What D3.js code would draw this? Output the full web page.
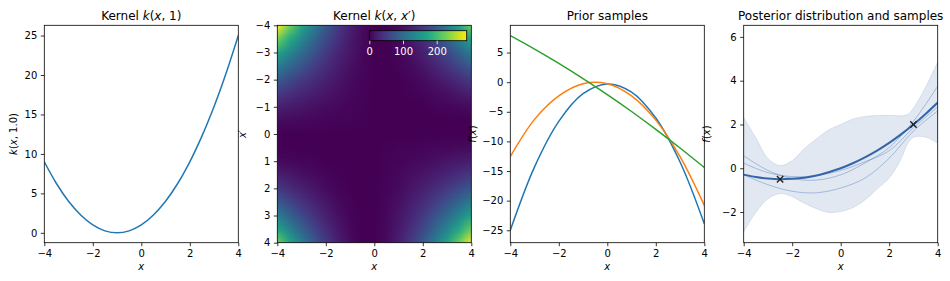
<!DOCTYPE html>
<meta charset="utf-8">
<head>
<script src="https://d3js.org/d3.v7.min.js"></script>
<style>
  body { margin: 0; background: #fff; }
  svg text { font-family: "DejaVu Sans", sans-serif; fill: #000; }
  .tick text { font-size: 10px; }
  .tick line { stroke: #000; stroke-width: 0.8; }
</style>
</head>
<body>
<div class="viz"></div>
<script>
// ---- data ----
// panel 1: k(x, 1)
var kernelX = [-4,-3.5,-3,-2.5,-2,-1.5,-1,-0.5,0,0.5,1,1.5,2,2.5,3,3.5,4];
var kernelK1 = [9,6.25,4,2.25,1,0.25,0,0.25,1,2.25,4,6.25,9,12.25,16,20.25,25];

// panel 2: k(x, x') on the same grid, rows are x' from -4 (top) to 4
var kernelGrid = [
  [289,225,169,121,81,49,25,9,1,1,9,25,49,81,121,169,225],
  [225,175.6,132.3,95.1,64,39.1,20.3,7.6,1,0.6,6.3,18.1,36,60.1,90.3,126.6,169],
  [169,132.3,100,72.3,49,30.3,16,6.3,1,0.3,4,12.3,25,42.3,64,90.3,121],
  [121,95.1,72.3,52.6,36,22.6,12.3,5.1,1,0.1,2.3,7.6,16,27.6,42.3,60.1,81],
  [81,64,49,36,25,16,9,4,1,0,1,4,9,16,25,36,49],
  [49,39.1,30.3,22.6,16,10.6,6.3,3.1,1,0.1,0.3,1.6,4,7.6,12.3,18.1,25],
  [25,20.3,16,12.3,9,6.3,4,2.3,1,0.3,0,0.3,1,2.3,4,6.3,9],
  [9,7.6,6.3,5.1,4,3.1,2.3,1.6,1,0.6,0.3,0.1,0,0.1,0.3,0.6,1],
  [1,1,1,1,1,1,1,1,1,1,1,1,1,1,1,1,1],
  [1,0.6,0.3,0.1,0,0.1,0.3,0.6,1,1.6,2.3,3.1,4,5.1,6.3,7.6,9],
  [9,6.3,4,2.3,1,0.3,0,0.3,1,2.3,4,6.3,9,12.3,16,20.3,25],
  [25,18.1,12.3,7.6,4,1.6,0.3,0.1,1,3.1,6.3,10.6,16,22.6,30.3,39.1,49],
  [49,36,25,16,9,4,1,0,1,4,9,16,25,36,49,64,81],
  [81,60.1,42.3,27.6,16,7.6,2.3,0.1,1,5.1,12.3,22.6,36,52.6,72.3,95.1,121],
  [121,90.3,64,42.3,25,12.3,4,0.3,1,6.3,16,30.3,49,72.3,100,132.3,169],
  [169,126.6,90.3,60.1,36,18.1,6.3,0.6,1,7.6,20.3,39.1,64,95.1,132.3,175.6,225],
  [225,169,121,81,49,25,9,1,1,9,25,49,81,121,169,225,289]
];
var kernelMax = 289;
var colorbarTicks = [0, 100, 200];

// panel 3: prior samples
var priorX = [-4,-3,-2,-1,0,1,2,3,4];
var priorBlue = [-25.0,-14.29,-6.61,-1.95,-0.3,-1.67,-6.06,-13.47,-23.9];
var priorOrange = [-12.56,-6.28,-2.31,-0.26,-0.26,-2.31,-6.41,-12.57,-20.8];
var priorGreen = [7.86,5.59,3.18,0.61,-2.1,-4.95,-7.96,-11.11,-14.41];

// panel 4: posterior
var postX = [-4,-3.5,-3,-2.5,-2,-1.5,-1,-0.5,0,0.5,1,1.5,2,2.5,3,3.5,4];
var postMean = [-0.29,-0.40,-0.47,-0.5,-0.48,-0.43,-0.33,-0.18,0,0.23,0.5,0.81,1.16,1.56,2.0,2.48,3.0];
var bandX = [-4,-3.5,-3,-2.5,-2,-1.5,-1,-0.5,0,0.5,1,1.5,2,2.5,2.75,3,3.5,4];
var bandUpper = [2.33,1.4,0.45,0.13,0.35,0.9,1.35,1.75,2.0,2.25,2.37,2.41,2.42,2.4,2.45,2.75,3.7,4.86];
var bandLower = [-2.91,-2.02,-1.4,-1.16,-1.3,-1.6,-1.85,-2.02,-1.98,-1.8,-1.45,-0.95,-0.45,0.45,1.1,1.42,1.42,1.15];
var sampleX = [-4,-3,-2,-1,0,1,2,3,4];
var sampleA = [0.57,-0.10,-0.47,-0.54,-0.3,0.24,0.95,2.15,3.75];
var sampleB = [0.23,-0.2,-0.38,-0.33,-0.1,0.3,0.8,1.85,2.8];
var sampleC = [-0.3,-0.75,-1.05,-1.12,-0.9,-0.45,0.46,1.7,2.62];
var obsX = [-2.5, 3];
var obsY = [-0.5, 2];

// ---- layout ----
var width = 950, height = 281;
var plotTop = 25.3, plotBottom = 242.7, pw = 194;
var lefts = [44.3, 277.3, 510.3, 743.7];

var svg = d3.select("div.viz").append("svg")
    .attr("width", width)
    .attr("height", height);

// writes text made of plain and italic pieces
function richText(g, parts) {
    parts.forEach(function(p) {
        g.append("tspan").text(p[0]).style("font-style", p[1] ? "italic" : "normal");
    });
    return g;
}

function makePanel(i, xDomain, yDomain, xTicks, yTicks, title, ylabel, ylabelOff) {
    var x = d3.scaleLinear().domain(xDomain).range([lefts[i], lefts[i] + pw]);
    var y = d3.scaleLinear().domain(yDomain).range([plotBottom, plotTop]);
    var g = svg.append("g");

    var clipId = "clip" + i;
    svg.append("clipPath").attr("id", clipId)
        .append("rect").attr("x", lefts[i]).attr("y", plotTop).attr("width", pw).attr("height", plotBottom - plotTop);
    var plot = g.append("g").attr("clip-path", "url(#" + clipId + ")");

    g.append("g")
        .attr("transform", "translate(0," + plotBottom + ")")
        .call(d3.axisBottom(x).tickValues(xTicks).tickSize(3.5).tickPadding(3.5).tickSizeOuter(0))
        .call(function(a) { a.select(".domain").remove(); });
    g.append("g")
        .attr("transform", "translate(" + lefts[i] + ",0)")
        .call(d3.axisLeft(y).tickValues(yTicks).tickSize(3.5).tickPadding(3.5).tickSizeOuter(0))
        .call(function(a) { a.select(".domain").remove(); });

    var t = g.append("text")
        .attr("x", lefts[i] + pw / 2).attr("y", 20)
        .attr("text-anchor", "middle").style("font-size", "12px");
    richText(t, title);

    g.append("text")
        .attr("x", lefts[i] + pw / 2).attr("y", 270)
        .attr("text-anchor", "middle").style("font-size", "10px").style("font-style", "italic")
        .text("x");

    var yl = g.append("text")
        .attr("transform", "translate(" + (lefts[i] - ylabelOff) + "," + ((plotTop + plotBottom) / 2) + ") rotate(-90)")
        .attr("text-anchor", "middle").attr("dy", "0.35em").style("font-size", "10px");
    richText(yl, ylabel);

    return { x: x, y: y, g: g, plot: plot };
}

function frame(p) {
    p.g.append("rect")
        .attr("x", p.x.range()[0]).attr("y", plotTop)
        .attr("width", pw).attr("height", plotBottom - plotTop)
        .attr("fill", "none").attr("stroke", "#000").attr("stroke-width", 0.8);
}

var smooth = d3.curveCatmullRom.alpha(0.5);

// ---- panel 1 ----
var p1 = makePanel(0, [-4, 4], [-1.25, 26.3], [-4,-2,0,2,4], [0,5,10,15,20,25],
    [["Kernel ", false], ["k", true], ["(", false], ["x", true], [", 1)", false]],
    [["k", true], ["(", false], ["x", true], [", 1.0)", false]], 31);
p1.plot.append("path")
    .datum(d3.zip(kernelX, kernelK1))
    .attr("d", d3.line().x(function(d) { return p1.x(d[0]); }).y(function(d) { return p1.y(d[1]); }).curve(smooth))
    .attr("fill", "none").attr("stroke", "#1f77b4").attr("stroke-width", 1.5);
frame(p1);

// ---- panel 2 ----
var p2 = makePanel(1, [-4, 4], [4, -4], [-4,-2,0,2,4], [-4,-3,-2,-1,0,1,2,3,4],
    [["Kernel ", false], ["k", true], ["(", false], ["x", true], [", ", false], ["x", true], ["\u2032)", false]],
    [["x", true], ["\u2032", false]], 35);

var n = kernelX.length;
var canvas = document.createElement("canvas");
canvas.width = n; canvas.height = n;
var ctx = canvas.getContext("2d");
var img = ctx.createImageData(n, n);
var colorScale = d3.scaleSequential(d3.interpolateViridis).domain([0, kernelMax]);
kernelGrid.forEach(function(row, r) {
    row.forEach(function(v, c) {
        var col = d3.rgb(colorScale(v));
        var k = (r * n + c) * 4;
        img.data[k] = col.r; img.data[k + 1] = col.g; img.data[k + 2] = col.b; img.data[k + 3] = 255;
    });
});
ctx.putImageData(img, 0, 0);
var half = (kernelX[1] - kernelX[0]) / 2;
p2.plot.append("image")
    .attr("href", canvas.toDataURL())
    .attr("x", p2.x(kernelX[0] - half))
    .attr("y", p2.y(kernelX[0] - half))
    .attr("width", p2.x(kernelX[n - 1] + half) - p2.x(kernelX[0] - half))
    .attr("height", p2.y(kernelX[n - 1] + half) - p2.y(kernelX[0] - half))
    .attr("preserveAspectRatio", "none")
    .style("image-rendering", "auto");
frame(p2);

// colorbar inset
var cbScale = d3.scaleLinear().domain([0, kernelMax]).range([369.3, 466.7]);
var grad = svg.append("defs").append("linearGradient").attr("id", "viridisGrad");
d3.range(0, 1.0001, 0.05).forEach(function(t) {
    grad.append("stop").attr("offset", t).attr("stop-color", d3.interpolateViridis(t));
});
svg.append("rect")
    .attr("x", cbScale(0)).attr("y", 30.7)
    .attr("width", cbScale(kernelMax) - cbScale(0)).attr("height", 10)
    .attr("fill", "url(#viridisGrad)").attr("stroke", "#000").attr("stroke-width", 0.8);
var cbAxis = svg.append("g")
    .attr("transform", "translate(0,40.7)")
    .call(d3.axisBottom(cbScale).tickValues(colorbarTicks).tickSize(3.5).tickPadding(3.5).tickSizeOuter(0));
cbAxis.select(".domain").remove();
cbAxis.selectAll(".tick line").style("stroke", "#fff");
cbAxis.selectAll(".tick text").style("fill", "#fff");

// ---- panel 3 ----
var p3 = makePanel(2, [-4, 4], [-27.1, 9.6], [-4,-2,0,2,4], [-25,-20,-15,-10,-5,0,5],
    [["Prior samples", false]],
    [["f", true], ["(", false], ["x", true], [")", false]], 38);
[[priorBlue, "#1f77b4"], [priorOrange, "#ff7f0e"], [priorGreen, "#2ca02c"]].forEach(function(s) {
    p3.plot.append("path")
        .datum(d3.zip(priorX, s[0]))
        .attr("d", d3.line().x(function(d) { return p3.x(d[0]); }).y(function(d) { return p3.y(d[1]); }).curve(smooth))
        .attr("fill", "none").attr("stroke", s[1]).attr("stroke-width", 1.5);
});
frame(p3);

// ---- panel 4 ----
var p4 = makePanel(3, [-4, 4], [-3.4, 6.53], [-4,-2,0,2,4], [-2,0,2,4,6],
    [["Posterior distribution and samples", false]],
    [["f", true], ["(", false], ["x", true], [")", false]], 37);
var postColor = "#3465a8";
p4.plot.append("path")
    .datum(d3.zip(bandX, bandLower, bandUpper))
    .attr("d", d3.area().x(function(d) { return p4.x(d[0]); })
        .y0(function(d) { return p4.y(d[1]); }).y1(function(d) { return p4.y(d[2]); }).curve(smooth))
    .attr("fill", postColor).attr("fill-opacity", 0.15)
    .attr("stroke", postColor).attr("stroke-opacity", 0.12).attr("stroke-width", 1);
[sampleA, sampleB, sampleC].forEach(function(s) {
    p4.plot.append("path")
        .datum(d3.zip(sampleX, s))
        .attr("d", d3.line().x(function(d) { return p4.x(d[0]); }).y(function(d) { return p4.y(d[1]); }).curve(smooth))
        .attr("fill", "none").attr("stroke", postColor).attr("stroke-opacity", 0.45).attr("stroke-width", 0.8);
});
p4.plot.append("path")
    .datum(d3.zip(postX, postMean))
    .attr("d", d3.line().x(function(d) { return p4.x(d[0]); }).y(function(d) { return p4.y(d[1]); }).curve(smooth))
    .attr("fill", "none").attr("stroke", postColor).attr("stroke-width", 2);
p4.plot.selectAll("path.obs")
    .data(d3.zip(obsX, obsY))
    .enter().append("path")
    .attr("class", "obs")
    .attr("d", function(d) {
        var cx = p4.x(d[0]), cy = p4.y(d[1]), r = 3.2;
        return "M" + (cx - r) + "," + (cy - r) + "L" + (cx + r) + "," + (cy + r) +
               "M" + (cx - r) + "," + (cy + r) + "L" + (cx + r) + "," + (cy - r);
    })
    .attr("stroke", "#222").attr("stroke-width", 1.4);
frame(p4);
</script>
</body>
